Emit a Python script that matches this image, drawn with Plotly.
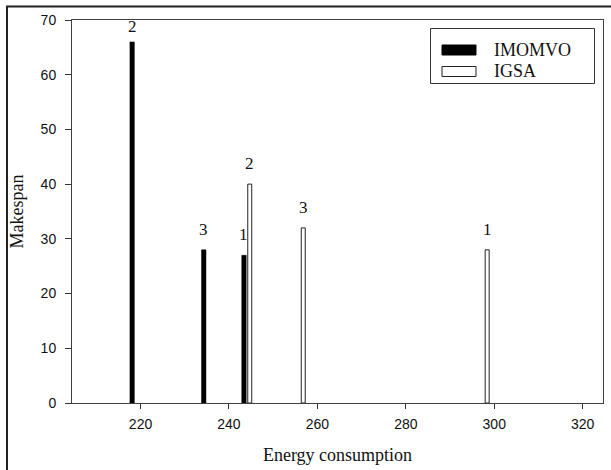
import plotly.graph_objects as go

# ---- data ----
imomvo_energy = [218.1, 234.3, 243.4]
imomvo_makespan = [66, 28, 27]
imomvo_labels = ["2", "3", "1"]

igsa_energy = [244.7, 256.8, 298.4]
igsa_makespan = [40, 32, 28]
igsa_labels = ["2", "3", "1"]

x_ticks = [220, 240, 260, 280, 300, 320]
y_ticks = [0, 10, 20, 30, 40, 50, 60, 70]

SERIF = "Liberation Serif, Times New Roman, serif"
SANS = "Liberation Sans, Arial, sans-serif"

fig = go.Figure()
fig.add_trace(go.Bar(
    x=imomvo_energy, y=imomvo_makespan, name="IMOMVO",
    width=[1.0] * len(imomvo_energy),
    marker=dict(color="black", line=dict(color="black", width=0.5)),
    showlegend=False,
))
fig.add_trace(go.Bar(
    x=igsa_energy, y=igsa_makespan, name="IGSA",
    width=[0.9] * len(igsa_energy),
    marker=dict(color="white", line=dict(color="#222", width=1)),
    showlegend=False,
))

# value labels above bars
for xs, ys, labs in [(imomvo_energy, imomvo_makespan, imomvo_labels),
                     (igsa_energy, igsa_makespan, igsa_labels)]:
    for xv, yv, lab in zip(xs, ys, labs):
        fig.add_annotation(
            x=xv, y=yv, text=lab, showarrow=False,
            yanchor="bottom", yshift=4 if yv > 60 else 9,
            font=dict(family=SERIF, size=17, color="#111"),
        )

# manual legend (wide swatches like the reference)
W, H = 611, 470
L, R, T, B = 72, 8, 20, 67
pw, ph = W - L - R, H - T - B

def px(x):
    return (x - L) / pw

def py(y):
    return (H - B - y) / ph

fig.add_shape(type="rect", xref="paper", yref="paper",
              x0=px(430.5), x1=px(594.5), y0=py(83.5), y1=py(28.5),
              line=dict(color="#333", width=1), fillcolor="white")
fig.add_shape(type="rect", xref="paper", yref="paper",
              x0=px(442), x1=px(476), y0=py(55), y1=py(45),
              line=dict(color="black", width=1), fillcolor="black")
fig.add_shape(type="rect", xref="paper", yref="paper",
              x0=px(442), x1=px(476), y0=py(76.5), y1=py(66.5),
              line=dict(color="#222", width=1), fillcolor="white")
for name, yc in [("IMOMVO", 50), ("IGSA", 71.5)]:
    fig.add_annotation(xref="paper", yref="paper", x=px(492), y=py(yc),
                       text=name, showarrow=False, xanchor="left", yanchor="middle",
                       font=dict(family=SERIF, size=18, color="#111"))

# outer frame
fig.add_shape(type="rect", xref="paper", yref="paper",
              x0=px(7), x1=px(640), y0=py(500), y1=py(6.5),
              line=dict(color="#222", width=2), fillcolor="rgba(0,0,0,0)")

fig.update_layout(
    width=W, height=H,
    margin=dict(l=L, r=R, t=T, b=B),
    paper_bgcolor="white", plot_bgcolor="white",
    barmode="overlay",
    xaxis=dict(
        range=[204.5, 324.6], tickvals=x_ticks, ticks="outside", ticklen=5,
        tickcolor="#333", showline=True, linecolor="#404040", linewidth=1,
        mirror=True, showgrid=False, zeroline=False,
        tickfont=dict(family=SANS, size=14, color="#111"),
        ticklabelstandoff=3,
        title=dict(text="Energy consumption", standoff=17,
                   font=dict(family=SERIF, size=18, color="#111")),
    ),
    yaxis=dict(
        range=[0, 70], tickvals=y_ticks, ticks="outside", ticklen=6,
        tickcolor="#333", showline=True, linecolor="#404040", linewidth=1,
        mirror=True, showgrid=False, zeroline=False,
        tickfont=dict(family=SANS, size=14, color="#111"),
        ticklabelstandoff=6,
        title=dict(text="Makespan", standoff=12,
                   font=dict(family=SERIF, size=18, color="#111")),
    ),
)

fig.write_html("out.html")
